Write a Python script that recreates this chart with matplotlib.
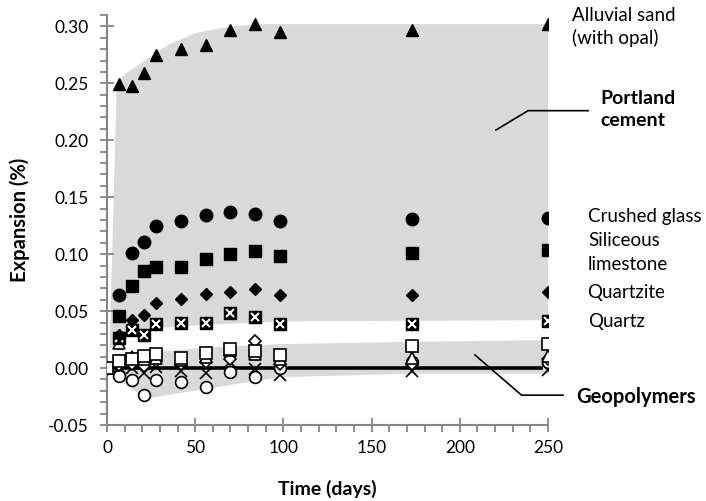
import matplotlib
matplotlib.use("Agg")
import matplotlib.pyplot as plt
from matplotlib.ticker import MultipleLocator

plt.rcParams['font.family'] = ['Lato', 'DejaVu Sans']

# time points (days)
days = [7, 14, 21, 28, 42, 56, 70, 84, 98, 173, 250]
days_geo = [0] + days

# Portland cement mortars
alluvial = [0.249, 0.248, 0.259, 0.275, 0.280, 0.284, 0.297, 0.302, 0.295, 0.297, 0.302]
crushed_glass = [0.064, 0.101, 0.111, 0.125, 0.129, 0.134, 0.137, 0.135, 0.129, 0.131, 0.132]
sil_limestone = [0.046, 0.072, 0.085, 0.089, 0.089, 0.096, 0.100, 0.103, 0.098, 0.101, 0.104]
quartzite = [0.029, 0.042, 0.047, 0.057, 0.061, 0.065, 0.067, 0.069, 0.064, 0.064, 0.067]
quartz = [0.026, 0.033, 0.029, 0.039, 0.040, 0.040, 0.048, 0.045, 0.039, 0.039, 0.041]

# geopolymer mortars (start at day 0)
geo_square = [0.0, 0.0065, 0.0076, 0.0106, 0.012, 0.0085, 0.0129, 0.0165, 0.0153, 0.0115, 0.0197, 0.0212]
geo_triangle = [0.0, 0.022, 0.010, 0.008, 0.009, 0.007, 0.010, 0.016, 0.012, 0.008, 0.009, 0.011]
geo_diamond = [0.0, 0.003, 0.004, 0.002, 0.006, 0.004, 0.005, 0.008, 0.024, 0.004, 0.004, 0.008]
geo_circle = [0.0, -0.0068, -0.0106, -0.0238, -0.0106, -0.0126, -0.017, -0.0033, -0.0077, -0.0003, 0.0056, 0.0056]
geo_cross = [0.0, 0.001, 0.0, -0.0047, 0.001, -0.003, -0.0047, 0.0056, -0.001, -0.0062, -0.003, -0.002]

# shaded envelopes
pc_up_x = [1.5, 5.5, 10, 15, 25, 35, 50, 70, 90, 250]
pc_up_y = [0.017, 0.249, 0.258, 0.263, 0.274, 0.284, 0.294, 0.300, 0.302, 0.302]
pc_lo_x = [1.5, 7, 14, 28, 56, 100, 250]
pc_lo_y = [0.017, 0.024, 0.029, 0.035, 0.038, 0.041, 0.042]
geo_up_x = [0, 7, 28, 56, 98, 173, 250]
geo_up_y = [0.0, 0.012, 0.014, 0.018, 0.021, 0.023, 0.0245]
geo_lo_x = [0, 7, 14, 21, 98, 173, 250]
geo_lo_y = [0.0, -0.010, -0.018, -0.027, -0.008, -0.005, -0.005]

fig = plt.figure(figsize=(7.06, 5.01), dpi=100)
ax = fig.add_axes([107 / 706, 1 - 425 / 501, (548 - 107) / 706, (425 - 15) / 501])

gray = '#d9d9d9'
ax.fill(pc_up_x + pc_lo_x[::-1], pc_up_y + pc_lo_y[::-1], color=gray, lw=0, zorder=1)
ax.fill(geo_up_x + geo_lo_x[::-1], geo_up_y + geo_lo_y[::-1], color=gray, lw=0, zorder=1)

ax.plot([0, 246], [0, 0], color='black', lw=2.6, zorder=2)

# geopolymers, open markers
ax.plot(days_geo, geo_cross, 'x', color='black', ms=8, mew=1.2, zorder=3)
ax.plot(days_geo, geo_circle, 'o', mfc='white', mec='black', ms=8.5, mew=1.2, zorder=3)
ax.plot(days_geo, geo_diamond, 'D', mfc='white', mec='black', ms=6.5, mew=1.2, zorder=3)
ax.plot(days_geo, geo_triangle, '^', mfc='white', mec='black', ms=8.5, mew=1.2, zorder=3)
ax.plot(days_geo, geo_square, 's', mfc='white', mec='black', ms=8, mew=1.2, zorder=3)

# portland cement, filled markers
ax.plot(days, quartz, 's', color='black', ms=8, zorder=4)
ax.plot(days, quartz, 'x', color='white', ms=6, mew=1.5, zorder=4)
ax.plot(days, quartzite, 'D', color='black', ms=6.5, zorder=4)
ax.plot(days, sil_limestone, 's', color='black', ms=8.5, zorder=4)
ax.plot(days, crushed_glass, 'o', color='black', ms=9, zorder=4)
ax.plot(days, alluvial, '^', color='black', ms=9, zorder=4)

ax.set_xlim(0, 250)
ax.set_ylim(-0.05, 0.31)
ax.xaxis.set_major_locator(MultipleLocator(50))
ax.xaxis.set_minor_locator(MultipleLocator(10))
ax.yaxis.set_major_locator(MultipleLocator(0.05))
ax.yaxis.set_minor_locator(MultipleLocator(0.01))
ax.yaxis.set_major_formatter(matplotlib.ticker.FuncFormatter(lambda v, p: '%.2f' % v))

for s in ['top', 'right']:
    ax.spines[s].set_visible(False)
for s in ['left', 'bottom']:
    ax.spines[s].set_color('#868686')
    ax.spines[s].set_linewidth(1.5)
ax.tick_params(which='major', direction='inout', length=10, width=1.3, color='#868686',
               labelsize=12.5, pad=6)
ax.tick_params(which='minor', direction='out', length=5, width=1.3, color='#868686')
ax.tick_params(axis='y', which='major', pad=8)

ax.set_xlabel('Time (days)', fontsize=14, fontweight='bold', labelpad=17)
ax.set_ylabel('Expansion (%)', fontsize=14.5, fontweight='bold', labelpad=13)

lbl = dict(fontsize=13.5, ha='left', va='center', clip_on=False)
ax.text(263.6, 0.2996, 'Alluvial sand\n(with opal)', linespacing=1.3, **lbl)
ax.text(272.7, 0.1333, 'Crushed glass', **lbl)
ax.text(272.7, 0.1015, 'Siliceous\nlimestone', linespacing=1.45, **lbl)
ax.text(272.0, 0.066, 'Quartzite', **lbl)
ax.text(272.7, 0.0406, 'Quartz', **lbl)
ax.text(279.5, 0.227, 'Portland\ncement', fontweight='bold', linespacing=1.4,
        **dict(lbl, fontsize=14))
ax.text(265.9, -0.0256, 'Geopolymers', fontweight='bold', **dict(lbl, fontsize=14.5))

ax.plot([220.5, 238.7, 272.7], [0.209, 0.226, 0.226], color='black', lw=1.2,
        clip_on=False, zorder=5)
ax.plot([208.6, 235.0, 258.5], [0.0115, -0.0238, -0.0238], color='black', lw=1.2,
        clip_on=False, zorder=5)

fig.savefig('out.png', dpi=100)
